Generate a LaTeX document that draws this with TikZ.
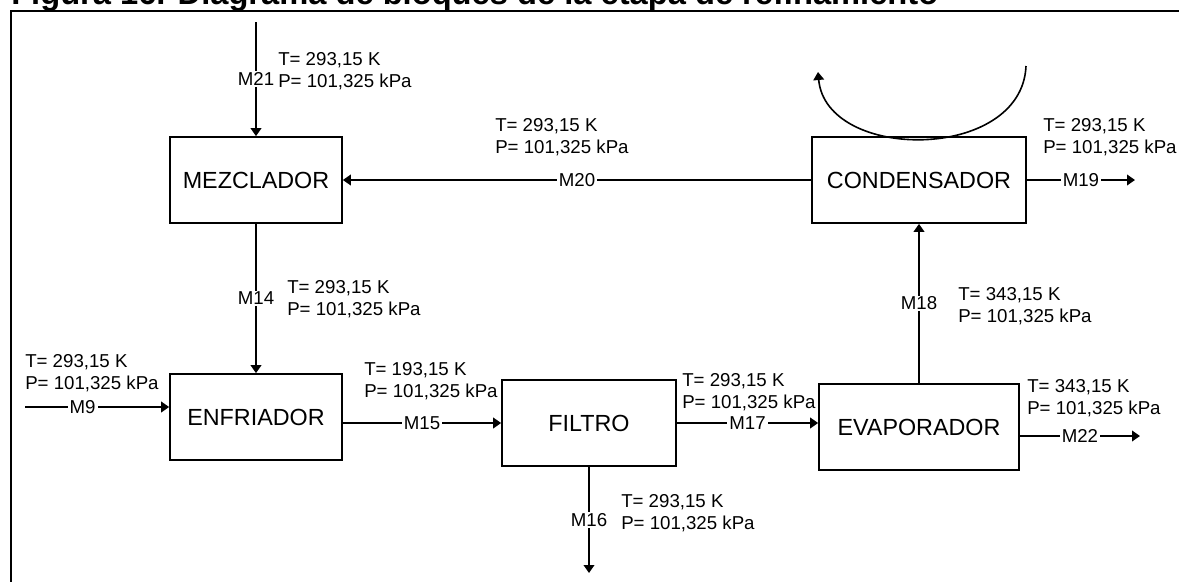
\documentclass[tikz,border=0pt]{standalone}
\usepackage{fontspec}
\setmainfont{Liberation Sans}
\usetikzlibrary{arrows.meta}
\tikzset{
  % process unit: plain rectangle, width given as argument
  box/.style   = {draw, line width=1.3pt, minimum width=#1, minimum height=64.5pt,
                  inner sep=0pt, font=\fontsize{17.5}{21}\selectfont},
  box/.default = 129pt,
  arr/.style   = {-{Triangle[length=6pt,width=8pt]}, line width=1.2pt},
  tag/.style   = {fill=white, inner xsep=1.5pt, inner ysep=1pt,
                  font=\fontsize{14}{16.5}\selectfont},
  lbl/.style   = {anchor=west, align=left, inner sep=0pt,
                  font=\fontsize{14}{16.5}\selectfont},
}
\begin{document}
\begin{tikzpicture}[x=0.75pt, y=-0.75pt]
\useasboundingbox (0,0) rectangle (1179,582);
% frame and caption (cut at the top)
\draw[line width=1.9pt] (1179,11) -- (11,11) -- (11,582);
\node[anchor=base west, inner sep=0pt, font=\fontsize{24.5}{29}\selectfont\bfseries]
  (title) at (11,4) {Figura 16. Diagrama de bloques de la etapa de refinamiento};
% units
\node[box] (mez) at (256,180) {MEZCLADOR};
\node[box=160.5pt] (cond) at (919,180) {CONDENSADOR};
\node[box] (enf) at (256,417) {ENFRIADOR};
\node[box=130.5pt] (fil) at (589,423) {FILTRO};
\node[box=150pt] (evap) at (919,427) {EVAPORADOR};
% free stream ends
\coordinate (in21) at (256,22);
\coordinate (in9) at (25,407);
\coordinate (out19) at (1135,180);
\coordinate (out22) at (1140,436);
\coordinate (out16) at (589,573);
\coordinate (vapA) at (1026,66);
\coordinate (vapB) at (818,72);
% streams
\draw[arr] (in21) -- node[tag] (m21) {M21} (mez.north);
\draw[arr] (cond.west) -- node[tag] (m20) {M20} (mez.east);
\draw[arr] (cond.east) -- node[tag] (m19) {M19} (out19);
\draw[arr] (mez.south) -- node[tag] (m14) {M14} (enf.north);
\draw[arr] (in9) -- node[tag, pos=0.4] (m9) {M9} (in9 -| enf.west);
\draw[arr] (enf.east |- fil.west) -- node[tag] (m15) {M15} (fil.west);
\draw[arr] (fil.east) -- node[tag] (m17) {M17} (fil.east -| evap.west);
\draw[arr] (fil.south) -- node[tag] (m16) {M16} (out16);
\draw[arr] (evap.north) -- node[tag] (m18) {M18} (cond.south);
\draw[arr] (out22 -| evap.east) -- node[tag] (m22) {M22} (out22);
% vapour loop over the condenser
\draw[arr] (vapA) .. controls (1022,162) and (826,162) .. (vapB);
% stream conditions
\node[lbl] (c21) at (278,71)  {T= 293,15 K\\P= 101,325 kPa};
\node[lbl] (c20) at (495,137) {T= 293,15 K\\P= 101,325 kPa};
\node[lbl] (c19) at (1043,137) {T= 293,15 K\\P= 101,325 kPa};
\node[lbl] (c14) at (287,299) {T= 293,15 K\\P= 101,325 kPa};
\node[lbl] (c18) at (958,306) {T= 343,15 K\\P= 101,325 kPa};
\node[lbl] (c9)  at (25,373)  {T= 293,15 K\\P= 101,325 kPa};
\node[lbl] (c15) at (364,381) {T= 193,15 K\\P= 101,325 kPa};
\node[lbl] (c17) at (682,392) {T= 293,15 K\\P= 101,325 kPa};
\node[lbl] (c22) at (1027,398) {T= 343,15 K\\P= 101,325 kPa};
\node[lbl] (c16) at (621,513) {T= 293,15 K\\P= 101,325 kPa};
\end{tikzpicture}
\end{document}
